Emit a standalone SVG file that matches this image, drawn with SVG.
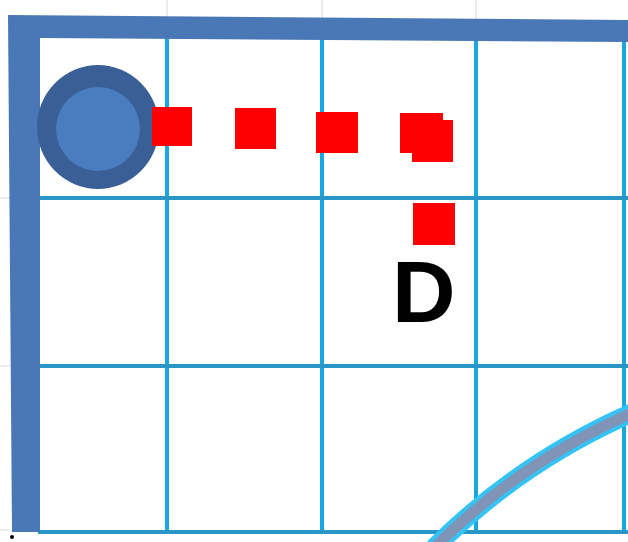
<svg xmlns="http://www.w3.org/2000/svg" width="628" height="542" viewBox="0 0 628 542">
<style>
.faint{stroke:#d8d8d8;stroke-width:1;fill:none}
.grid{stroke:#1ca6df;stroke-width:4;fill:none}
.gridh{stroke:#2a96c8;stroke-width:4;fill:none}
.wall{fill:#4a78b6}
.sq{fill:#ff0000}
.lbl{font-family:"Liberation Sans",Arial,sans-serif;font-size:88px;font-weight:bold;fill:#000}
</style>
<rect width="628" height="542" fill="#ffffff"/>
<g id="background">
<path class="faint" d="M167 0V20M322 0V22M476 0V24M0 198H10M0 366H10M0 530H10"/>
</g>
<g id="grid">
<path class="grid" d="M167 36V534M322 38V534M476 40V534M624 40V534"/>
<path class="gridh" d="M38 198H628M38 366H628M38 532H628"/>
</g>
<g id="walls">
<polygon class="wall" points="8,15 628,20 628,42 40,38 40,532 12,532"/>
</g>
<g id="curve">
<path d="M434 548 Q520 462 634 412" fill="none" stroke="#33c4f5" stroke-width="19"/>
<path d="M434 548 Q520 462 634 412" fill="none" stroke="#8094b8" stroke-width="11"/>
</g>
<g id="start">
<ellipse cx="98" cy="127" rx="61" ry="62" fill="#3a5f96"/>
<circle cx="98" cy="129" r="42" fill="#4a7dc0"/>
</g>
<g id="connectors">
<rect class="sq" x="152" y="107" width="40" height="39"/>
<rect class="sq" x="235" y="108" width="41" height="41"/>
<rect class="sq" x="316" y="112" width="42" height="41"/>
<rect class="sq" x="400" y="113" width="43" height="40"/>
<rect class="sq" x="412" y="120" width="41" height="42"/>
<rect class="sq" x="413" y="203" width="42" height="42"/>
</g>
<g id="label-D">
<text class="lbl" x="392" y="322">D</text>
</g>
<circle cx="12" cy="537" r="2" fill="#000"/>
</svg>
